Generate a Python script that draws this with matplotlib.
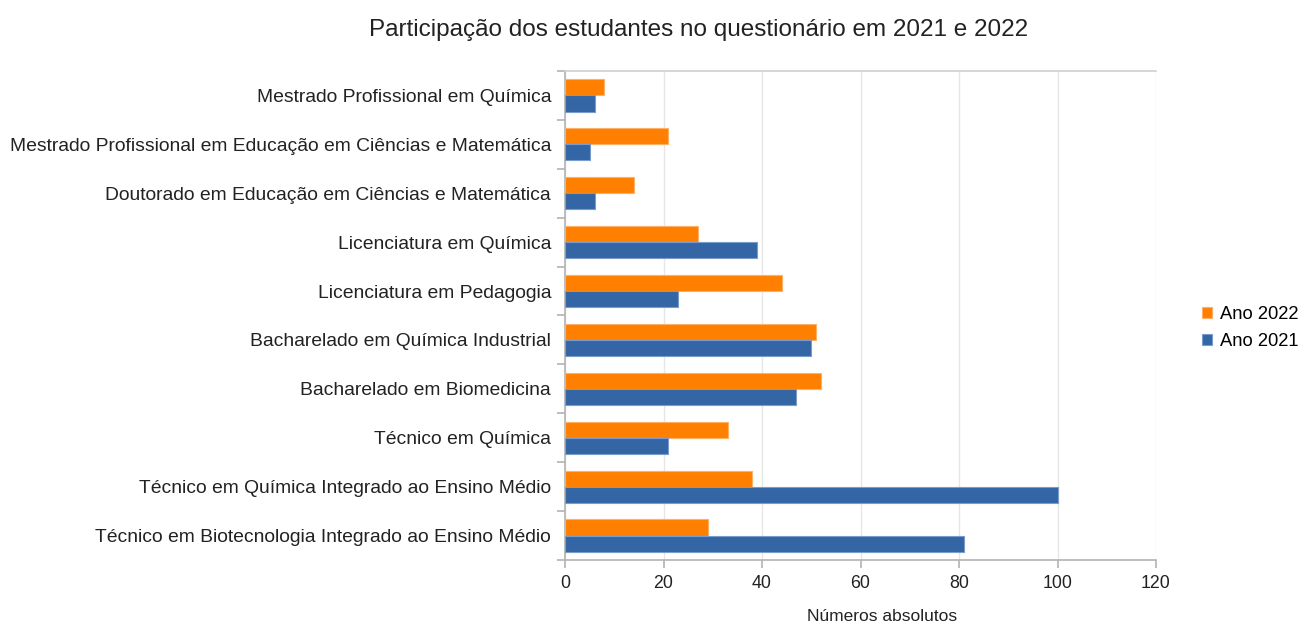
import matplotlib
matplotlib.use("Agg")
import matplotlib.pyplot as plt
import numpy as np

categories = [
    "Mestrado Profissional em Química",
    "Mestrado Profissional em Educação em Ciências e Matemática",
    "Doutorado em Educação em Ciências e Matemática",
    "Licenciatura em Química",
    "Licenciatura em Pedagogia",
    "Bacharelado em Química Industrial",
    "Bacharelado em Biomedicina",
    "Técnico em Química",
    "Técnico em Química Integrado ao Ensino Médio",
    "Técnico em Biotecnologia Integrado ao Ensino Médio",
]
ano_2022 = [8, 21, 14, 27, 44, 51, 52, 33, 38, 29]
ano_2021 = [6, 5, 6, 39, 23, 50, 47, 21, 100, 81]
xticks = [0, 20, 40, 60, 80, 100, 120]

plt.rcParams['font.family'] = ['Liberation Sans', 'DejaVu Sans']

fig = plt.figure(figsize=(13.05, 6.3), dpi=100)
ax = fig.add_axes([565/1305, 1-560/630, (1156-565)/1305, (560-71)/630])

n = len(categories)
y = np.arange(n)
h = 0.33
orange = "#ff8000"
blue = "#3465a4"
ax.barh(y - h/2, ano_2022, height=h, color=orange, edgecolor="#ffb066", linewidth=0.8, label="Ano 2022", zorder=3)
ax.barh(y + h/2, ano_2021, height=h, color=blue, edgecolor="#7a9ccc", linewidth=0.8, label="Ano 2021", zorder=3)

ax.set_ylim(n - 0.5, -0.5)
ax.set_xlim(0, 120)
ax.set_xticks(xticks)
ax.set_xticklabels([str(v) for v in xticks], fontsize=12.8, color="#222222")
ax.set_yticks(y)
ax.set_yticklabels(categories, fontsize=13.9, color="#222222")
ax.tick_params(axis='y', length=0, pad=10)
ax.set_yticks(np.arange(-0.5, n, 1), minor=True)
ax.tick_params(axis='y', which='minor', length=6, color="#b3b3b3", width=1.2)
ax.tick_params(axis='x', length=6, color="#b3b3b3", width=1.2, pad=5)

ax.grid(axis='x', color="#e6e6e6", linewidth=1, zorder=0)
for s in ['left', 'bottom']:
    ax.spines[s].set_color("#b3b3b3")
    ax.spines[s].set_linewidth(1.2)
ax.spines['top'].set_color("#d0d0d0")
ax.spines['top'].set_linewidth(1.2)
ax.spines['right'].set_visible(False)

ax.set_xlabel("Números absolutos", fontsize=12.5, color="#222222")
ax.xaxis.set_label_coords((882 - 565) / 591, -0.1)
fig.text(698.5/1305, 1-30/630, "Participação dos estudantes no questionário em 2021 e 2022",
         ha='center', va='center', fontsize=17.5, color="#222222")

leg = ax.legend(loc='center left', bbox_to_anchor=(1.075, 0.474),
                frameon=False, fontsize=13.2, handlelength=0.55, handleheight=0.55,
                handletextpad=0.4, labelspacing=0.55, borderpad=0.1, borderaxespad=0)

fig.savefig("out.png", dpi=100)
